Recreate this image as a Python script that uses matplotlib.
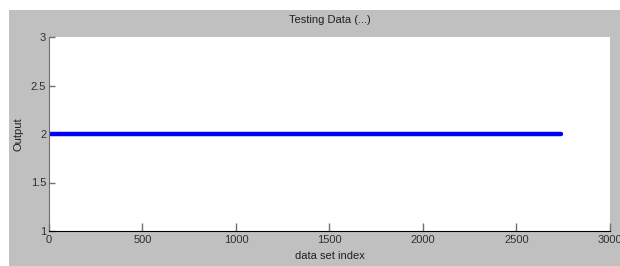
import matplotlib
matplotlib.use("Agg")
import matplotlib.pyplot as plt
from matplotlib.patches import Rectangle

# data
x_range = [0, 2740]
output_values = [2, 2]
x_ticks = [0, 500, 1000, 1500, 2000, 2500, 3000]
x_ticklabels = ["0", "500", "1000", "1500", "2000", "2500", "3000"]
y_ticks = [1, 1.5, 2, 2.5, 3]
y_ticklabels = ["1", "1.5", "2", "2.5", "3"]

plt.rcParams['font.family'] = ['Liberation Sans', 'DejaVu Sans']
W, H = 620, 266
fig = plt.figure(figsize=(W / 100, H / 100), dpi=100)
fig.patch.set_facecolor('white')
bg = Rectangle((9 / W, 0), 1 - 9 / W, 1 - 10 / H, transform=fig.transFigure,
               facecolor='#c0c0c0', edgecolor='none', zorder=-10)
fig.add_artist(bg)

ax = fig.add_axes([49 / W, 1 - 231 / H, (610 - 49) / W, (231 - 37) / H])
ax.set_zorder(1)
ax.set_facecolor('white')
ax.plot(x_range, output_values, color='#0000ff', linewidth=3.2, solid_capstyle='round')
ax.set_xlim(0, 3000)
ax.set_ylim(1, 3)
ax.set_xticks(x_ticks)
ax.set_xticklabels(x_ticklabels)
ax.set_yticks(y_ticks)
ax.set_yticklabels(y_ticklabels)
ax.spines['top'].set_visible(False)
ax.spines['right'].set_visible(False)
ax.spines['left'].set_color('#707070')
ax.spines['bottom'].set_color('#000000')
ax.tick_params(axis='y', direction='in', length=4, width=1, colors='#707070',
               labelcolor='#303030', labelsize=8, pad=2)
ax.tick_params(axis='x', direction='in', length=6, width=1, colors='#707070',
               labelcolor='#303030', labelsize=8, pad=3)
ax.set_title('Testing Data (...)', fontsize=8, color='#202020', pad=10)
ax.set_xlabel('data set index', fontsize=8, color='#202020', labelpad=4)
ax.set_ylabel('Output', fontsize=8, color='#202020', labelpad=5)

fig.savefig('out.png', dpi=100, facecolor=fig.get_facecolor())
